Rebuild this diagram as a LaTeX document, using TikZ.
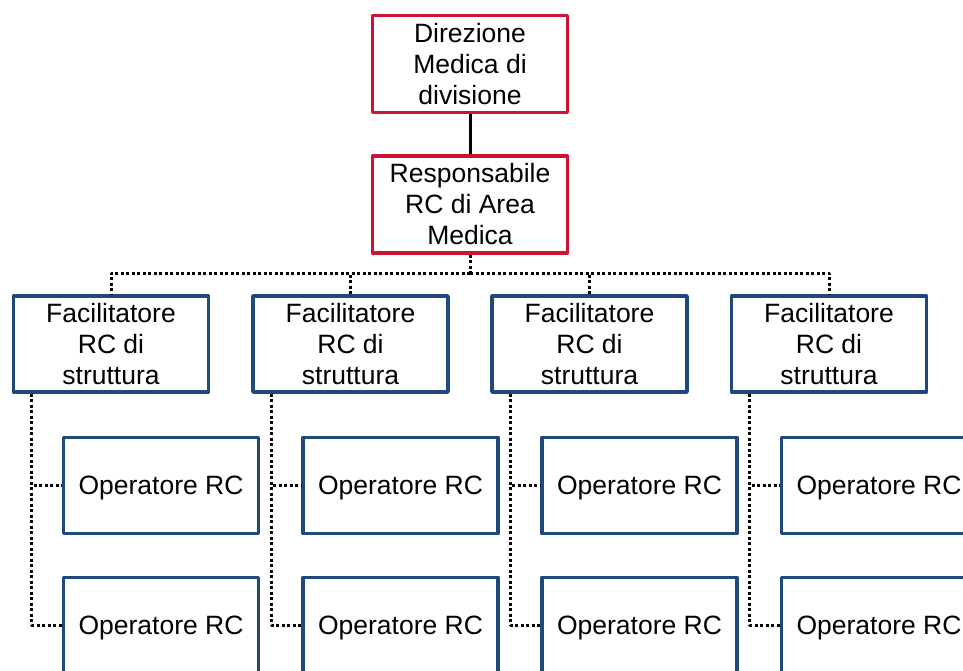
\documentclass[tikz,border=0pt]{standalone}
\usepackage{fontspec}
\setmainfont{Liberation Sans}
\definecolor{rcred}{RGB}{204,20,50}
\definecolor{rcblue}{RGB}{31,73,125}
\tikzset{
	redbox/.style={draw=rcred, line width=3.8pt, minimum width=195pt, minimum height=97pt, align=center, inner sep=0pt, execute at begin node={\rule{0pt}{23.5pt}}},
	bluebox/.style={draw=rcblue, line width=3.8pt, minimum width=195pt, minimum height=96pt, align=center, inner sep=0pt, execute at begin node={\rule{0pt}{23.5pt}}},
	dotline/.style={line width=3pt, dash pattern=on 3pt off 2.5pt}
}
\begin{document}
\begin{tikzpicture}[x=1pt, y=-1pt, font=\fontsize{26.5}{31}\selectfont, line join=round]
	\useasboundingbox (0,0) rectangle (963,671);
	\clip (0,0) rectangle (963,671);
	% vertice
	\node[redbox] (dir) at (470,64) {Direzione\\Medica di\\divisione};
	\node[redbox] (resp) at (470,204.5) {Responsabile\\RC di Area\\Medica};
	\draw[line width=3pt] (dir.south) -- (resp.south |- resp.north);
	\coordinate (bus) at (470,273);
	\draw[dotline] (resp.south) -- (bus);
	% strutture
	\foreach \i/\x in {1/111, 2/350.5, 3/589.5, 4/829}{
		\node[bluebox] (f\i) at (\x,344) {Facilitatore\\RC di\\struttura};
		\node[bluebox] (o\i a) at (\x+50,485.5) {Operatore RC};
		\node[bluebox] (o\i b) at (\x+50,625.5) {Operatore RC};
		\draw[dotline] (bus) -| (f\i.north);
		\coordinate (s\i) at ([xshift=20pt]f\i.south west);
		\draw[dotline] (s\i) |- (o\i a.west);
		\draw[dotline] (s\i) |- (o\i b.west);
	}
\end{tikzpicture}
\end{document}
